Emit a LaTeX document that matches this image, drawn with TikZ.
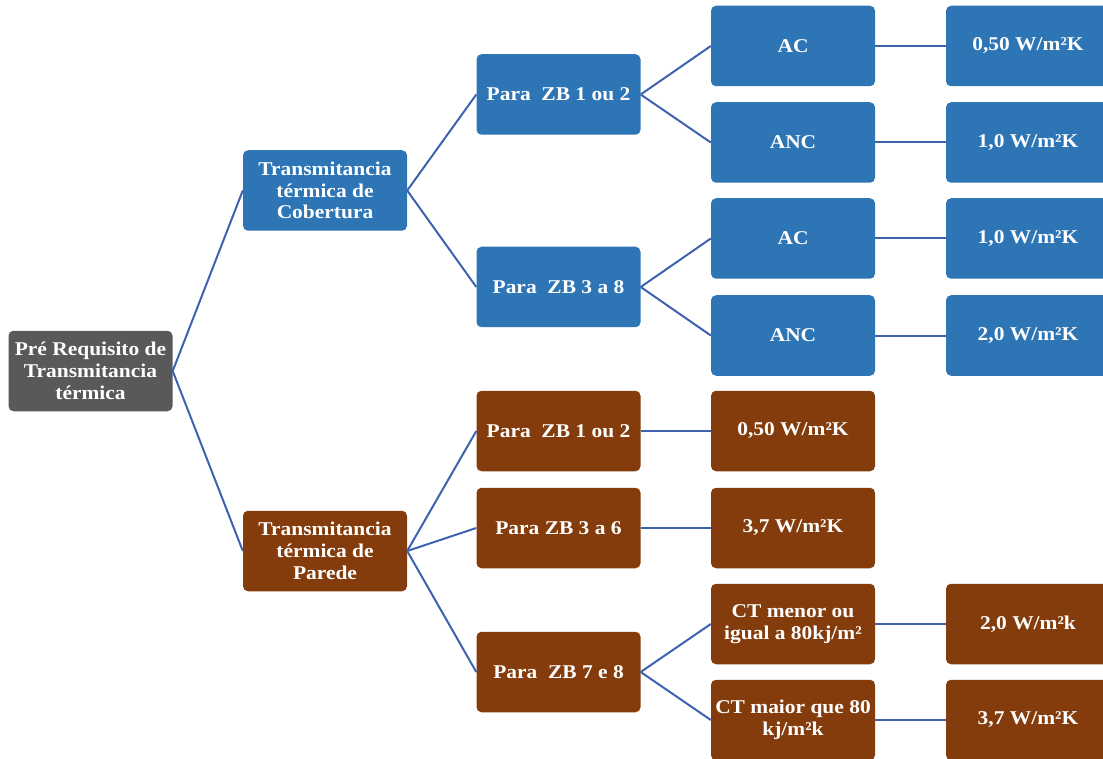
\documentclass[tikz,border=0pt]{standalone}
\usepackage{fontspec}
\setmainfont{Liberation Serif}[FakeStretch=1.1]
\definecolor{bxblue}{HTML}{2E75B6}
\definecolor{bxbrown}{HTML}{843C0C}
\definecolor{bxgray}{HTML}{595959}
\definecolor{lnblue}{HTML}{3F62B0}
\begin{document}
\begin{tikzpicture}[x=1pt,y=-1pt,
  box/.style={rectangle,rounded corners=5pt,minimum width=164pt,minimum height=80.5pt,inner sep=0pt,
    text=white,align=center,font=\bfseries\fontsize{19.5}{21.7}\selectfont},
  bb/.style={box,fill=bxblue},
  br/.style={box,fill=bxbrown},
  bg/.style={box,fill=bxgray},
  conn/.style={draw=lnblue,line width=2pt}]
\useasboundingbox (0,0) rectangle (1103,759);
\node[bg] (root) at (90.5,371) {Pré Requisito de\\Transmitancia\\térmica};
\node[bb] (cob) at (325,190.5) {Transmitancia\\térmica de\\Cobertura};
\node[br] (par) at (325,551) {Transmitancia\\térmica de\\Parede};
\node[bb] (b1) at (558.5,94.5) {Para\ \ ZB 1 ou 2};
\node[bb] (b2) at (558.5,287) {Para\ \ ZB 3 a 8};
\node[br] (r1) at (558.5,431) {Para\ \ ZB 1 ou 2};
\node[br] (r2) at (558.5,528) {Para ZB 3 a 6};
\node[br] (r3) at (558.5,672) {Para\ \ ZB 7 e 8};
\node[bb] (a1) at (793,46) {AC};
\node[bb] (a2) at (793,142.5) {ANC};
\node[bb] (a3) at (793,238.5) {AC};
\node[bb] (a4) at (793,335.5) {ANC};
\node[br] (c1) at (793,431) {0,50 W/m²K};
\node[br] (c2) at (793,528) {3,7 W/m²K};
\node[br] (c3) at (793,624) {CT menor ou\\igual a 80kj/m²};
\node[br] (c4) at (793,720) {CT maior que 80\\kj/m²k};
\node[bb] (v1) at (1028,46) {0,50 W/m²K};
\node[bb] (v2) at (1028,142.5) {1,0 W/m²K};
\node[bb] (v3) at (1028,238.5) {1,0 W/m²K};
\node[bb] (v4) at (1028,335.5) {2,0 W/m²K};
\node[br] (v5) at (1028,624) {2,0 W/m²k};
\node[br] (v6) at (1028,720) {3,7 W/m²K};
\draw[conn] (root.east) -- (cob.west);
\draw[conn] (root.east) -- (par.west);
\draw[conn] (cob.east) -- (b1.west);
\draw[conn] (cob.east) -- (b2.west);
\draw[conn] (par.east) -- (r1.west);
\draw[conn] (par.east) -- (r2.west);
\draw[conn] (par.east) -- (r3.west);
\draw[conn] (b1.east) -- (a1.west);
\draw[conn] (b1.east) -- (a2.west);
\draw[conn] (b2.east) -- (a3.west);
\draw[conn] (b2.east) -- (a4.west);
\draw[conn] (r1.east) -- (c1.west);
\draw[conn] (r2.east) -- (c2.west);
\draw[conn] (r3.east) -- (c3.west);
\draw[conn] (r3.east) -- (c4.west);
\draw[conn] (a1.east) -- (v1.west);
\draw[conn] (a2.east) -- (v2.west);
\draw[conn] (a3.east) -- (v3.west);
\draw[conn] (a4.east) -- (v4.west);
\draw[conn] (c3.east) -- (v5.west);
\draw[conn] (c4.east) -- (v6.west);
\end{tikzpicture}
\end{document}
